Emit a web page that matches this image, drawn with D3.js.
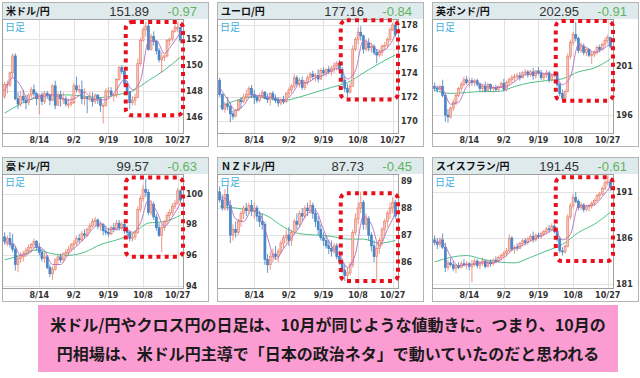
<!DOCTYPE html>
<html>
<head>
<meta charset="utf-8">
<script src="https://cdn.jsdelivr.net/npm/d3@7"></script>
<style>
  body { margin: 0; background: #fff; }
  svg { display: block; }
</style>
</head>
<body>
<svg id="chart" width="640" height="378"></svg>
<script>
// trading days shown on every panel
const dates = ["7/28","7/29","7/30","7/31","8/1","8/4","8/5","8/6","8/7","8/8",
  "8/11","8/12","8/13","8/14","8/15","8/18","8/19","8/20","8/21","8/22",
  "8/25","8/26","8/27","8/28","8/29","9/1","9/2","9/3","9/4","9/5",
  "9/8","9/9","9/10","9/11","9/12","9/15","9/16","9/17","9/18","9/19",
  "9/22","9/23","9/24","9/25","9/26","9/29","9/30","10/1","10/2","10/3",
  "10/6","10/7","10/8","10/9","10/10","10/13","10/14","10/15","10/16","10/17",
  "10/20","10/21","10/22","10/23","10/24","10/27","10/28"];
const tickDates = ["8/14","9/2","9/19","10/8","10/27"];
const maShortDates = ["7/28","7/31","8/5","8/8","8/13","8/18","8/21","8/26","8/29","9/3","9/8","9/11",
  "9/16","9/19","9/24","9/29","10/2","10/7","10/10","10/15","10/20","10/23","10/28"];
const maLongDates = ["7/28","8/5","8/13","8/21","8/29","9/8","9/16","9/24","10/2","10/10","10/20","10/28"];

const pairNames = ["米ドル/円","ユーロ/円","英ポンド/円","豪ドル/円","ＮＺドル/円","スイスフラン/円"];
const lastPrices = ["151.89","177.16","202.95","99.57","87.73","191.45"];
const changes = ["-0.97","-0.84","-0.91","-0.63","-0.45","-0.61"];
const timeframe = "日足";
const captionLines = ["米ドル/円やクロス円の日足は、10月が同じような値動きに。つまり、10月の",
  "円相場は、米ドル円主導で「日本の政治ネタ」で動いていたのだと思われる"];

// [open, high, low, close]
const usdjpy = [
[147.6,148.7,147.4,148.5],[148.5,148.8,147.8,148.5],[148.5,149.5,148.3,149.4],[149.4,150.9,149.0,150.7],
[150.7,150.9,147.3,147.4],[147.4,147.9,146.6,147.0],[147.0,148.0,146.8,147.6],[147.6,148.1,147.1,147.3],
[147.3,147.7,146.6,147.1],[147.1,147.8,146.9,147.7],[147.7,148.3,147.5,148.1],[148.1,148.5,147.6,147.8],
[147.8,147.9,146.9,147.4],[147.4,147.8,146.2,147.7],[147.7,147.9,146.9,147.2],[147.2,148.0,147.0,147.8],
[147.8,148.0,147.4,147.7],[147.7,147.8,146.9,147.3],[147.3,148.5,147.2,148.4],[148.4,148.8,146.6,146.9],
[146.9,147.9,146.9,147.7],[147.7,148.0,146.8,147.4],[147.4,147.9,147.0,147.4],[147.4,147.6,146.8,147.0],
[147.0,147.4,146.7,147.0],[147.0,147.6,146.8,147.1],[147.1,148.6,147.0,148.4],[148.4,149.1,147.9,148.1],
[148.1,148.5,147.8,148.1],[148.1,148.8,147.0,147.4],[147.4,148.2,146.9,147.5],[147.5,147.6,146.3,147.4],
[147.4,147.9,147.2,147.4],[147.4,147.9,146.8,147.2],[147.2,147.8,147.0,147.7],[147.7,147.7,147.0,147.4],
[147.4,147.5,146.4,146.9],[146.9,147.1,145.5,146.9],[146.9,148.2,146.8,148.0],[148.0,148.3,147.4,148.0],
[148.0,148.3,147.6,147.7],[147.7,147.8,147.2,147.7],[147.7,149.0,147.5,148.9],[148.9,149.9,148.8,149.8],
[149.8,150.0,149.3,149.5],[149.5,149.6,148.4,148.6],[148.6,148.8,147.7,147.9],[147.9,148.0,146.6,147.1],
[147.1,147.6,146.9,147.3],[147.3,147.8,146.9,147.5],[147.5,150.5,147.5,150.1],[150.1,152.1,149.9,151.9],
[151.9,152.9,151.8,152.7],[152.7,153.3,152.2,153.0],[153.0,153.2,151.1,151.2],[151.2,152.4,151.1,152.2],
[152.2,152.6,151.5,151.8],[151.8,151.9,150.8,151.1],[151.1,151.3,150.2,150.4],[150.4,151.0,149.4,150.6],
[150.6,150.8,150.3,150.7],[150.7,152.0,150.6,151.9],[151.9,152.1,151.5,152.0],[152.0,152.7,151.8,152.6],
[152.6,153.2,152.5,152.9],[152.9,153.3,152.5,152.9],[152.9,152.9,151.7,151.9]];
const eurjpy = [
[173.4,173.6,172.0,172.2],[172.2,172.3,170.9,171.0],[171.0,171.6,170.7,171.4],[171.4,172.0,170.9,171.2],
[171.2,171.5,169.9,170.6],[170.6,170.9,170.1,170.4],[170.4,171.0,170.3,170.9],[170.9,171.8,170.8,171.7],
[171.7,172.0,171.0,171.6],[171.6,172.3,171.5,172.0],[172.0,172.6,171.7,172.2],[172.2,172.9,172.0,172.7],
[172.7,173.0,171.9,172.2],[172.2,172.6,171.4,172.0],[172.0,172.2,171.5,171.7],[171.7,172.3,171.6,172.1],
[172.1,172.6,171.9,172.4],[172.4,172.5,171.8,171.9],[171.9,172.3,171.5,171.8],[171.8,172.4,171.3,172.3],
[172.3,172.5,171.7,171.9],[171.9,172.2,171.5,171.7],[171.7,172.0,171.2,171.5],[171.5,171.9,171.3,171.8],
[171.8,172.1,171.4,171.6],[171.6,172.4,171.5,172.3],[172.3,172.8,172.0,172.6],[172.6,173.1,172.3,172.9],
[172.9,173.9,172.7,173.6],[173.6,173.8,172.9,173.1],[173.1,173.6,172.8,173.4],[173.4,173.7,172.6,172.8],
[172.8,173.4,172.6,173.2],[173.2,173.8,173.0,173.6],[173.6,174.1,173.3,173.9],[173.9,174.2,173.4,173.7],
[173.7,174.0,173.3,173.8],[173.8,174.3,173.2,173.5],[173.5,174.4,173.4,174.2],[174.2,174.5,173.8,174.0],
[174.0,174.4,173.7,174.3],[174.3,174.6,173.9,174.1],[174.1,174.6,173.8,174.4],[174.4,174.9,174.0,174.6],
[174.6,175.0,174.2,174.8],[174.8,175.1,174.1,174.3],[174.3,174.5,173.1,173.4],[173.4,173.7,172.4,172.7],
[172.7,173.1,172.0,172.4],[172.4,173.2,172.3,172.9],[172.9,176.3,172.9,176.0],[176.0,177.0,175.8,176.8],
[176.8,177.8,176.4,177.4],[177.4,177.9,176.7,177.1],[177.1,177.2,175.6,176.0],[176.0,176.8,175.8,176.5],
[176.5,176.9,175.8,176.1],[176.1,176.5,175.7,176.2],[176.2,176.4,175.5,175.7],[175.7,176.0,174.8,175.5],
[175.5,175.9,175.3,175.7],[175.7,176.4,175.4,176.2],[176.2,176.6,175.9,176.3],[176.3,177.0,176.1,176.8],
[176.8,177.8,176.6,177.6],[177.6,178.2,177.5,178.0],[178.0,178.1,177.0,177.2]];
const gbpjpy = [
[198.9,199.3,198.4,198.7],[198.7,199.0,198.3,198.6],[198.6,199.1,198.4,198.9],[198.9,199.6,197.8,198.0],
[198.0,198.2,195.3,196.0],[196.0,196.6,195.2,195.8],[195.8,196.9,195.6,196.7],[196.7,197.6,196.4,197.3],
[197.3,198.2,197.0,198.0],[198.0,198.9,197.8,198.7],[198.7,199.4,198.4,199.1],[199.1,199.9,198.9,199.6],
[199.6,200.0,199.1,199.3],[199.3,199.8,198.8,199.5],[199.5,199.8,199.0,199.3],[199.3,199.7,198.9,199.5],
[199.5,199.7,198.9,199.1],[199.1,199.3,198.4,198.7],[198.7,199.1,198.3,198.9],[198.9,199.4,198.3,198.5],
[198.5,199.3,198.4,199.1],[199.1,199.2,198.4,198.7],[198.7,199.0,198.3,198.8],[198.8,199.1,198.4,198.6],
[198.6,199.0,198.4,198.9],[198.9,199.4,198.8,199.2],[199.2,199.7,198.4,198.6],[198.6,199.5,198.4,199.3],
[199.3,199.8,199.0,199.6],[199.6,200.1,199.2,199.8],[199.8,200.2,199.4,199.9],[199.9,200.3,199.6,200.0],
[200.0,200.4,199.5,199.8],[199.8,200.5,199.7,200.3],[200.3,200.7,200.0,200.4],[200.4,200.6,199.8,200.1],
[200.1,200.6,199.9,200.4],[200.4,200.8,199.6,200.0],[200.0,200.6,199.7,200.5],[200.5,200.9,200.1,200.3],
[200.3,200.6,199.6,199.8],[199.8,200.3,199.5,200.1],[200.1,200.6,199.8,200.3],[200.3,200.5,199.3,199.6],
[199.6,200.2,199.4,200.0],[200.0,200.5,199.8,200.3],[200.3,200.4,198.9,199.1],[199.1,199.3,197.9,198.2],
[198.2,198.6,197.4,197.7],[197.7,198.6,197.6,198.4],[198.4,202.3,198.3,202.0],[202.0,203.7,201.7,203.4],
[203.4,204.5,203.1,204.2],[204.2,205.5,203.5,203.8],[203.8,204.0,202.3,202.6],[202.6,203.4,202.3,203.0],
[203.0,203.3,202.1,202.4],[202.4,202.9,202.0,202.7],[202.7,202.8,201.9,202.1],[202.1,202.5,201.2,202.2],
[202.2,202.6,201.9,202.4],[202.4,203.1,202.2,202.9],[202.9,203.2,202.4,202.7],[202.7,203.4,202.6,203.2],
[203.2,203.9,203.0,203.6],[203.6,204.2,203.3,203.9],[203.9,204.0,202.8,203.0]];
const audjpy = [
[97.2,97.5,96.7,96.9],[96.9,97.3,96.6,97.1],[97.1,97.5,96.5,96.7],[96.7,97.4,96.2,96.4],
[96.4,96.6,95.0,95.4],[95.4,96.0,94.9,95.8],[95.8,96.2,95.5,95.9],[95.9,96.3,95.6,96.1],
[96.1,96.5,95.9,96.3],[96.3,96.7,96.1,96.5],[96.5,96.8,96.2,96.7],[96.7,97.1,96.4,96.9],
[96.9,97.0,96.3,96.5],[96.5,96.8,96.0,96.2],[96.2,96.4,95.6,95.8],[95.8,96.2,95.5,95.9],
[95.9,96.0,95.1,95.2],[95.2,95.4,94.6,94.8],[94.8,95.3,94.4,95.1],[95.1,95.8,95.0,95.7],
[95.7,96.0,95.4,95.9],[95.9,96.1,95.5,95.7],[95.7,96.2,95.6,96.1],[96.1,96.4,95.9,96.2],
[96.2,96.6,96.0,96.4],[96.4,96.8,96.3,96.7],[96.7,97.0,96.4,96.8],[96.8,97.3,96.6,97.1],
[97.1,97.4,96.8,97.0],[97.0,97.6,96.9,97.4],[97.4,97.7,97.1,97.3],[97.3,97.8,97.2,97.7],
[97.7,98.1,97.5,97.9],[97.9,98.4,97.8,98.2],[98.2,98.5,97.9,98.3],[98.3,98.4,97.7,97.9],
[97.9,98.2,97.6,98.0],[98.0,98.1,97.3,97.6],[97.6,97.9,97.3,97.5],[97.5,97.8,97.2,97.4],
[97.4,97.9,97.3,97.8],[97.8,98.1,97.5,97.7],[97.7,98.3,97.6,98.1],[98.1,98.3,97.6,97.8],
[97.8,98.2,97.6,98.0],[98.0,98.1,97.4,97.6],[97.6,97.9,97.3,97.5],[97.5,97.6,96.9,97.1],
[97.1,97.4,96.9,97.2],[97.2,97.6,97.0,97.5],[97.5,99.2,97.4,99.0],[99.0,99.9,98.8,99.7],
[99.7,100.6,99.5,100.3],[100.3,101.0,99.8,100.1],[100.1,100.3,98.6,98.8],[98.8,99.6,98.6,99.3],
[99.3,99.5,98.3,98.5],[98.5,98.7,97.6,97.8],[97.8,98.1,97.2,97.3],[97.3,98.0,96.2,97.8],
[97.8,98.3,97.6,98.2],[98.2,98.8,98.0,98.6],[98.6,99.0,98.3,98.8],[98.8,99.4,98.6,99.2],
[99.2,99.6,99.0,99.4],[99.4,100.4,99.3,100.2],[100.2,100.3,99.4,99.6]];
const nzdjpy = [
[88.6,88.8,88.2,88.3],[88.3,88.5,87.9,88.0],[88.0,88.7,87.9,88.5],[88.5,88.8,87.9,88.1],
[88.1,88.3,86.7,87.0],[87.0,87.4,86.8,87.2],[87.2,87.5,86.9,87.1],[87.1,87.6,87.0,87.5],
[87.5,87.9,87.3,87.8],[87.8,88.1,87.6,88.0],[88.0,88.2,87.7,87.9],[87.9,88.2,87.8,88.1],
[88.1,88.3,87.7,87.9],[87.9,88.2,87.6,88.0],[88.0,88.1,87.5,87.7],[87.7,87.9,87.3,87.5],
[87.5,87.8,87.2,87.4],[87.4,87.5,85.9,86.1],[86.1,86.3,85.6,85.9],[85.9,86.4,85.7,86.2],
[86.2,86.5,86.0,86.3],[86.3,86.6,86.1,86.2],[86.2,86.5,86.0,86.4],[86.4,86.8,86.3,86.7],
[86.7,87.0,86.5,86.9],[86.9,87.2,86.7,87.0],[87.0,87.3,86.6,86.8],[86.8,87.2,86.6,87.1],
[87.1,87.6,87.0,87.5],[87.5,87.8,87.2,87.4],[87.4,87.9,87.3,87.8],[87.8,88.0,87.5,87.7],
[87.7,88.1,87.6,88.0],[88.0,88.2,87.7,87.9],[87.9,88.3,87.8,88.1],[88.1,88.2,87.6,87.8],
[87.8,88.0,87.3,87.5],[87.5,87.7,87.0,87.2],[87.2,87.4,86.8,86.9],[86.9,87.1,86.6,86.8],
[86.8,87.0,86.5,86.6],[86.6,86.8,86.3,86.5],[86.5,86.8,86.2,86.4],[86.4,86.7,86.3,86.6],
[86.6,86.7,86.1,86.2],[86.2,86.4,85.9,86.0],[86.0,86.1,85.6,85.7],[85.7,85.9,85.3,85.5],
[85.5,85.8,85.3,85.6],[85.6,86.0,85.5,85.9],[85.9,87.2,85.8,87.1],[87.1,87.8,87.0,87.6],
[87.6,88.2,87.4,88.0],[88.0,88.6,87.8,88.2],[88.2,88.3,87.2,87.4],[87.4,87.8,87.2,87.6],
[87.6,87.7,86.8,87.0],[87.0,87.1,86.4,86.6],[86.6,86.8,86.0,86.2],[86.2,86.7,85.3,86.5],
[86.5,86.9,86.3,86.8],[86.8,87.3,86.6,87.2],[87.2,87.6,87.0,87.5],[87.5,87.9,87.3,87.8],
[87.8,88.2,87.6,88.0],[88.0,88.4,87.8,88.2],[88.2,88.3,87.6,87.7]];
const chfjpy = [
[185.8,186.3,185.2,185.5],[185.5,186.0,184.8,185.3],[185.3,186.1,185.0,185.8],[185.8,186.5,184.8,185.0],
[185.0,185.5,182.3,182.8],[182.8,183.6,182.5,183.3],[183.3,183.8,182.9,183.1],[183.1,183.5,182.4,182.7],
[182.7,183.2,182.2,183.0],[183.0,183.4,182.6,182.8],[182.8,183.5,182.7,183.2],[183.2,183.7,182.9,183.1],
[183.1,183.5,182.6,183.2],[183.2,183.4,182.5,182.9],[182.9,183.6,181.2,183.1],[183.1,183.8,182.9,183.5],
[183.5,183.7,182.7,183.0],[183.0,183.5,182.6,183.3],[183.3,183.9,183.0,183.5],[183.5,183.6,182.7,182.9],
[182.9,183.6,182.8,183.4],[183.4,183.7,182.9,183.2],[183.2,183.8,183.0,183.6],[183.6,184.0,183.3,183.5],
[183.5,184.1,183.3,183.9],[183.9,184.3,183.6,184.1],[184.1,184.6,183.8,184.3],[184.3,184.9,184.0,184.6],
[184.6,186.4,184.4,186.0],[186.0,186.2,184.6,184.8],[184.8,185.2,184.3,185.0],[185.0,185.4,184.6,184.9],
[184.9,185.6,184.8,185.4],[185.4,185.9,185.1,185.7],[185.7,186.0,185.2,185.5],[185.5,186.1,185.3,185.9],
[185.9,186.4,185.6,186.2],[186.2,186.7,185.5,185.8],[185.8,186.5,185.6,186.3],[186.3,186.6,185.9,186.2],
[186.2,186.7,185.9,186.5],[186.5,186.9,186.2,186.7],[186.7,187.2,186.4,187.0],[187.0,187.4,186.6,186.9],
[186.9,187.6,186.8,187.3],[187.3,187.5,186.5,186.7],[186.7,186.9,185.6,185.9],[185.9,186.1,184.4,184.6],
[184.6,185.0,184.1,184.5],[184.5,185.3,184.3,185.1],[185.1,188.6,185.0,188.3],[188.3,189.8,188.0,189.5],
[189.5,190.8,189.2,190.4],[190.4,191.0,189.8,190.0],[190.0,190.2,189.0,189.3],[189.3,189.9,189.0,189.6],
[189.6,189.8,188.8,189.1],[189.1,189.6,188.9,189.4],[189.4,189.7,188.9,189.5],[189.5,190.0,189.2,189.8],
[189.8,190.3,189.5,190.1],[190.1,190.8,189.9,190.6],[190.6,191.0,190.2,190.8],[190.8,191.6,190.6,191.4],
[191.4,192.3,191.2,192.0],[192.0,192.8,191.7,192.1],[192.1,192.2,191.1,191.5]];

// short (purple) moving average, read at maShortDates
const usdjpyMaShort = [148.0,149.0,148.4,147.3,147.6,147.6,147.7,147.5,147.3,147.5,147.9,147.4,147.3,147.4,148.1,148.9,148.1,148.8,151.8,151.9,150.9,151.6,152.5];
const eurjpyMaShort = [172.8,171.8,170.9,171.3,172.1,172.1,172.0,171.9,171.7,172.2,173.1,173.2,173.6,173.8,174.2,174.4,173.5,174.2,176.7,176.4,175.8,176.1,177.2];
const gbpjpyMaShort = [198.9,198.6,197.1,197.3,198.9,199.4,199.1,198.8,198.8,198.9,199.4,200.0,200.2,200.3,200.2,200.1,199.1,199.9,203.2,202.9,202.4,202.7,203.3];
const audjpyMaShort = [96.8,96.8,96.0,96.1,96.6,96.3,95.4,95.4,96.1,96.6,97.1,97.7,98.1,97.7,97.7,97.8,97.5,98.1,99.6,98.9,97.9,98.5,99.4];
const nzdjpyMaShort = [88.4,88.3,87.6,87.5,87.9,87.8,86.9,86.1,86.5,86.9,87.3,87.8,87.9,87.2,86.6,86.3,85.8,86.3,87.7,87.4,86.6,87.2,87.8];
const chfjpyMaShort = [185.6,185.5,184.0,183.0,183.1,183.2,183.3,183.3,183.5,184.1,184.9,185.2,185.7,186.1,186.5,186.9,185.8,186.4,189.5,189.5,189.6,190.5,191.6];
// long (green) moving average, read at maLongDates
const usdjpyMaLong = [146.3,147.0,147.5,147.7,147.7,147.6,147.5,147.7,148.0,148.8,149.6,150.6];
const eurjpyMaLong = [171.2,171.7,172.0,171.9,171.7,172.0,172.4,172.8,173.2,174.0,174.8,175.5];
const gbpjpyMaLong = [198.5,198.2,198.3,198.4,198.4,198.9,199.3,199.5,199.7,200.4,200.8,201.7];
const audjpyMaLong = [95.7,96.0,96.35,96.1,96.0,96.2,96.7,97.0,97.4,98.1,98.2,98.6];
const nzdjpyMaLong = [88.05,88.0,87.9,87.7,87.3,87.05,87.0,86.95,86.85,86.85,86.7,86.8];
const chfjpyMaLong = [183.4,183.9,184.1,183.7,183.4,183.3,183.9,184.6,185.3,186.6,187.5,188.8];

// visible price range [top, bottom] and labelled prices
const priceRanges = [[153.54,144.77],[178.5,169.0],[205.8,194.16],[101.3,93.87],[89.26,85.04],[192.96,180.57]];
const priceTicks = [[146,148,150,152],[170,172,174,176,178],[196,201],[94,96,98,100],[86,87,88,89],[181,186,191]];
// red dotted highlight: from date, price high, price low
const highlightFrom = "9/30";
const highlightPrices = [[153.3,146.13],[178.4,171.8],[205.6,197.46],[101.08,95.9],[88.55,85.3],[192.6,183.5]];

const ohlcSets = [usdjpy, eurjpy, gbpjpy, audjpy, nzdjpy, chfjpy];
const maShortSets = [usdjpyMaShort, eurjpyMaShort, gbpjpyMaShort, audjpyMaShort, nzdjpyMaShort, chfjpyMaShort];
const maLongSets = [usdjpyMaLong, eurjpyMaLong, gbpjpyMaLong, audjpyMaLong, nzdjpyMaLong, chfjpyMaLong];

// layout
const panelW = 206, headerH = 17, plotW = 181, plotH = 114, panelH = 144;
const panelPos = [[2, 2], [217, 2], [432, 2], [2, 157], [217, 157], [432, 157]];
const jp = "'Noto Sans CJK JP', sans-serif";
const numFont = "'DejaVu Sans', sans-serif";

const svg = d3.select("#chart");

const x = d3.scaleBand()
  .domain(dates)
  .range([0, plotW])
  .paddingInner(0)
  .paddingOuter(0.5);
const cx = d => x(d) + x.bandwidth() / 2;
const bodyW = 2;

ohlcSets.forEach((ohlc, k) => {
  const [px, py] = panelPos[k];
  const g = svg.append("g").attr("transform", "translate(" + px + "," + py + ")");

  const y = d3.scaleLinear().domain([priceRanges[k][1], priceRanges[k][0]]).range([plotH, 0]);

  // panel frame and header
  g.append("rect").attr("x", 0.5).attr("y", 0.5).attr("width", panelW).attr("height", panelH)
    .attr("fill", "#fff").attr("stroke", "#b4b4b4");
  g.append("rect").attr("x", 1).attr("y", 1).attr("width", panelW - 1).attr("height", headerH - 1)
    .attr("fill", "#dfeaed");
  g.append("text").attr("x", 4).attr("y", 13)
    .style("font-family", jp).style("font-size", "10px").style("font-weight", "bold").attr("fill", "#111")
    .text(pairNames[k]);
  g.append("text").attr("x", 147).attr("y", 14).attr("text-anchor", "end")
    .style("font-family", "'Liberation Sans', Arial, sans-serif").style("font-size", "13px").attr("fill", "#333")
    .text(lastPrices[k]);
  g.append("text").attr("x", 195).attr("y", 14).attr("text-anchor", "end")
    .style("font-family", "'Liberation Sans', Arial, sans-serif").style("font-size", "13px").attr("fill", "#5fb45f")
    .text(changes[k]);

  const plot = g.append("g").attr("transform", "translate(0," + headerH + ")");
  plot.append("rect").attr("x", 0.5).attr("y", 0.5).attr("width", plotW).attr("height", plotH)
    .attr("fill", "#fff").attr("stroke", "#a0a0a0");

  // grid
  plot.selectAll(".vg").data(tickDates).enter().append("line")
    .attr("x1", d => Math.round(cx(d)) + 0.5).attr("x2", d => Math.round(cx(d)) + 0.5)
    .attr("y1", 1).attr("y2", plotH)
    .attr("stroke", "#e2e2e2");
  plot.selectAll(".hg").data(priceTicks[k]).enter().append("line")
    .attr("x1", 1).attr("x2", plotW)
    .attr("y1", d => Math.round(y(d)) + 0.5).attr("y2", d => Math.round(y(d)) + 0.5)
    .attr("stroke", "#e2e2e2");

  plot.append("text").attr("x", 3).attr("y", 12)
    .style("font-family", jp).style("font-size", "10px").attr("fill", "#3fb0e0")
    .text(timeframe);

  const clipId = "clip" + k;
  plot.append("clipPath").attr("id", clipId).append("rect")
    .attr("x", 1).attr("y", 1).attr("width", plotW - 1).attr("height", plotH - 1);
  const inner = plot.append("g").attr("clip-path", "url(#" + clipId + ")");

  // moving averages
  const lineS = d3.line().x((d, i) => cx(maShortDates[i])).y(d => y(d)).curve(d3.curveMonotoneX);
  const lineL = d3.line().x((d, i) => cx(maLongDates[i])).y(d => y(d)).curve(d3.curveMonotoneX);
  inner.append("path").attr("d", lineL(maLongSets[k]))
    .attr("fill", "none").attr("stroke", "#3cb878").attr("stroke-width", 0.9);

  // candles
  const candles = inner.selectAll(".c").data(ohlc).enter().append("g");
  candles.append("line")
    .attr("x1", (d, i) => cx(dates[i])).attr("x2", (d, i) => cx(dates[i]))
    .attr("y1", d => y(d[1])).attr("y2", d => y(d[2]))
    .attr("stroke", d => d[3] >= d[0] ? "#e77b68" : "#3f7cc0").attr("stroke-width", 0.8);
  candles.append("rect")
    .attr("x", (d, i) => cx(dates[i]) - bodyW / 2)
    .attr("y", d => y(Math.max(d[0], d[3])))
    .attr("width", bodyW)
    .attr("height", d => Math.max(1, Math.abs(y(d[0]) - y(d[3]))))
    .attr("fill", d => d[3] >= d[0] ? "#f6c3b8" : "#4a88c8")
    .attr("stroke", d => d[3] >= d[0] ? "#e77b68" : "#3f7cc0")
    .attr("stroke-width", 0.6);

  inner.append("path").attr("d", lineS(maShortSets[k]))
    .attr("fill", "none").attr("stroke", "#b26cb8").attr("stroke-width", 0.9);

  // axis labels
  plot.selectAll(".yl").data(priceTicks[k]).enter().append("text")
    .attr("x", plotW + 3).attr("y", d => y(d)).attr("dy", "0.35em")
    .style("font-family", numFont).style("font-size", "8px").style("font-weight", "bold").attr("fill", "#333")
    .text(d => d);
  plot.selectAll(".xl").data(tickDates).enter().append("text")
    .attr("x", d => cx(d)).attr("y", plotH + 10).attr("text-anchor", "middle")
    .style("font-family", numFont).style("font-size", "8px").style("font-weight", "bold").attr("fill", "#333")
    .text(d => d);

  // red dotted highlight
  const hp = highlightPrices[k];
  plot.append("rect")
    .attr("x", x(highlightFrom)).attr("y", y(hp[0]))
    .attr("width", plotW - x(highlightFrom)).attr("height", y(hp[1]) - y(hp[0]))
    .attr("rx", 6).attr("ry", 6)
    .attr("fill", "none").attr("stroke", "#e8101c").attr("stroke-width", 4)
    .attr("stroke-dasharray", "4 4.2");
});

// caption box
const cap = svg.append("g");
cap.append("rect").attr("x", 38).attr("y", 305).attr("width", 580).attr("height", 67).attr("fill", "#fb9dd2");
cap.selectAll("text").data(captionLines).enter().append("text")
  .attr("x", 328).attr("y", (d, i) => 331 + i * 29).attr("text-anchor", "middle")
  .style("font-family", jp).style("font-size", "16px").style("font-weight", "bold").attr("fill", "#1a1a1a")
  .text(d => d);
</script>
</body>
</html>
